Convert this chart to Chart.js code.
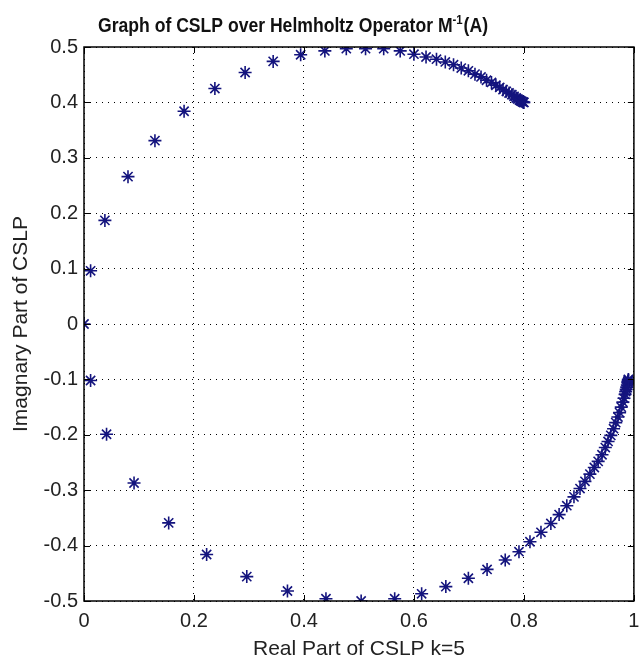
<!DOCTYPE html>
<html>
<head>
<meta charset="utf-8">
<script src="https://cdn.jsdelivr.net/npm/chart.js"></script>
<style>
  html, body { margin: 0; padding: 0; background: #fff; }
</style>
</head>
<body>
<canvas id="cslp" width="642" height="660"></canvas>
<script>
// eigenvalues of the preconditioned operator
const realPart = [
  0.000, 0.012, 0.038, 0.080, 0.129, 0.182, 0.238, 0.293, 0.344, 0.394,
  0.438, 0.477, 0.512, 0.545, 0.575, 0.600, 0.622,
  0.641, 0.657, 0.672, 0.686, 0.699, 0.711, 0.722, 0.732, 0.741, 0.749,
  0.756, 0.762, 0.768, 0.773, 0.778, 0.782, 0.786, 0.789, 0.792, 0.794,
  0.796, 0.798, 0.799, 0.800,
  0.012, 0.041, 0.091, 0.154, 0.223, 0.296, 0.370, 0.440, 0.504, 0.565,
  0.614, 0.658, 0.699, 0.733, 0.766, 0.791, 0.811, 0.831, 0.849, 0.864,
  0.878, 0.891, 0.902, 0.911, 0.920, 0.928, 0.935, 0.942, 0.948, 0.953,
  0.958, 0.963, 0.967, 0.971, 0.974, 0.977, 0.980, 0.982, 0.984, 0.985,
  0.986, 0.987, 0.988, 0.989, 0.989, 0.990, 0.990, 0.990
];
const imagPart = [
  0.000, 0.096, 0.187, 0.266, 0.331, 0.384, 0.425, 0.454, 0.474, 0.486,
  0.493, 0.497, 0.497, 0.497, 0.493, 0.487, 0.482,
  0.478, 0.473, 0.468, 0.462, 0.457, 0.451, 0.446, 0.440, 0.436, 0.431,
  0.427, 0.423, 0.420, 0.417, 0.414, 0.411, 0.408, 0.406, 0.404, 0.403,
  0.402, 0.401, 0.400, 0.400,
  -0.102, -0.199, -0.287, -0.359, -0.416, -0.456, -0.482, -0.496, -0.500, -0.496,
  -0.487, -0.474, -0.459, -0.443, -0.426, -0.411, -0.393, -0.376, -0.360, -0.344,
  -0.328, -0.312, -0.297, -0.284, -0.271, -0.259, -0.248, -0.236, -0.223, -0.212,
  -0.201, -0.189, -0.178, -0.168, -0.160, -0.150, -0.141, -0.134, -0.127, -0.122,
  -0.118, -0.114, -0.110, -0.106, -0.104, -0.102, -0.101, -0.100
];

const xTickValues = [0, 0.2, 0.4, 0.6, 0.8, 1];
const xTickLabels = ['0', '0.2', '0.4', '0.6', '0.8', '1'];
const yTickValues = [-0.5, -0.4, -0.3, -0.2, -0.1, 0, 0.1, 0.2, 0.3, 0.4, 0.5];
const yTickLabels = ['-0.5', '-0.4', '-0.3', '-0.2', '-0.1', '0', '0.1', '0.2', '0.3', '0.4', '0.5'];

const titleMain = 'Graph of CSLP over Helmholtz Operator M';
const titleSup = '-1';
const titleTail = '(A)';

const points = realPart.map((x, i) => ({ x: x, y: imagPart[i] }));

// matlab style box, inward ticks and title
const matlabAxes = {
  id: 'matlabAxes',
  afterDraw(chart) {
    const ctx = chart.ctx;
    const a = chart.chartArea;
    const xs = chart.scales.x, ys = chart.scales.y;
    ctx.save();
    ctx.strokeStyle = '#000';
    ctx.lineWidth = 1.5;
    ctx.strokeRect(a.left, a.top, a.right - a.left, a.bottom - a.top);
    ctx.lineWidth = 1;
    ctx.beginPath();
    xTickValues.forEach(v => {
      const px = Math.round(xs.getPixelForValue(v)) + 0.5;
      ctx.moveTo(px, a.bottom); ctx.lineTo(px, a.bottom - 6);
      ctx.moveTo(px, a.top); ctx.lineTo(px, a.top + 6);
    });
    yTickValues.forEach(v => {
      const py = Math.round(ys.getPixelForValue(v)) + 0.5;
      ctx.moveTo(a.left, py); ctx.lineTo(a.left + 6, py);
      ctx.moveTo(a.right, py); ctx.lineTo(a.right - 6, py);
    });
    ctx.stroke();

    // title with superscript, squeezed like the condensed original
    const fMain = 'bold 20px "Liberation Sans", Arial, sans-serif';
    const fSup = 'bold 13px "Liberation Sans", Arial, sans-serif';
    ctx.fillStyle = '#111';
    ctx.textBaseline = 'alphabetic';
    ctx.textAlign = 'left';
    ctx.font = fMain;
    const w1 = ctx.measureText(titleMain).width;
    const w3 = ctx.measureText(titleTail).width;
    ctx.font = fSup;
    const w2 = ctx.measureText(titleSup).width + 1;
    const total = w1 + w2 + w3;
    const sx = 390 / total;
    ctx.translate(98, 32);
    ctx.scale(sx, 1);
    let x = 0;
    ctx.font = fMain;
    ctx.fillText(titleMain, x, 0);
    x += w1;
    ctx.font = fSup;
    ctx.fillText(titleSup, x, -8);
    x += w2;
    ctx.font = fMain;
    ctx.fillText(titleTail, x, 0);
    ctx.restore();
  }
};

const tickFont = { family: 'Liberation Sans, Arial, sans-serif', size: 20 };
const labelFont = { family: 'Liberation Sans, Arial, sans-serif', size: 21, lineHeight: 1 };

new Chart(document.getElementById('cslp'), {
  type: 'scatter',
  data: {
    datasets: [{
      data: points,
      pointStyle: 'star',
      pointRadius: 6.5,
      pointBorderWidth: 1.6,
      borderColor: '#14147e',
      backgroundColor: '#14147e'
    }]
  },
  options: {
    responsive: false,
    animation: false,
    layout: { padding: { top: 47, right: 5, left: 0, bottom: 0 } },
    plugins: {
      legend: { display: false },
      tooltip: { enabled: false }
    },
    scales: {
      x: {
        type: 'linear',
        min: 0,
        max: 1,
        afterBuildTicks: s => { s.ticks = xTickValues.map(v => ({ value: v })); },
        afterFit: s => { s.height = 59; s.paddingLeft = 0; s.paddingRight = 0; },
        ticks: {
          font: tickFont,
          color: '#222',
          padding: 8,
          maxRotation: 0,
          callback: (v, i) => xTickLabels[i]
        },
        grid: { color: '#000', lineWidth: 1, drawTicks: false, borderDash: [1, 5] },
        border: { display: false, dash: [1, 5] },
        title: {
          display: true,
          text: 'Real Part of CSLP k=5',
          font: labelFont,
          color: '#222',
          padding: { top: 0, bottom: 0 }
        }
      },
      y: {
        type: 'linear',
        min: -0.5,
        max: 0.5,
        afterBuildTicks: s => { s.ticks = yTickValues.map(v => ({ value: v })); },
        afterFit: s => { s.width = 84; s.paddingTop = 0; s.paddingBottom = 0; },
        ticks: {
          font: tickFont,
          color: '#222',
          padding: 6,
          callback: (v, i) => yTickLabels[i]
        },
        grid: { color: '#000', lineWidth: 1, drawTicks: false, borderDash: [1, 5] },
        border: { display: false, dash: [1, 5] },
        title: {
          display: true,
          text: 'Imagnary Part of CSLP',
          font: labelFont,
          color: '#222',
          padding: { top: 11, bottom: 0 }
        }
      }
    }
  },
  plugins: [matlabAxes]
});
</script>
</body>
</html>
